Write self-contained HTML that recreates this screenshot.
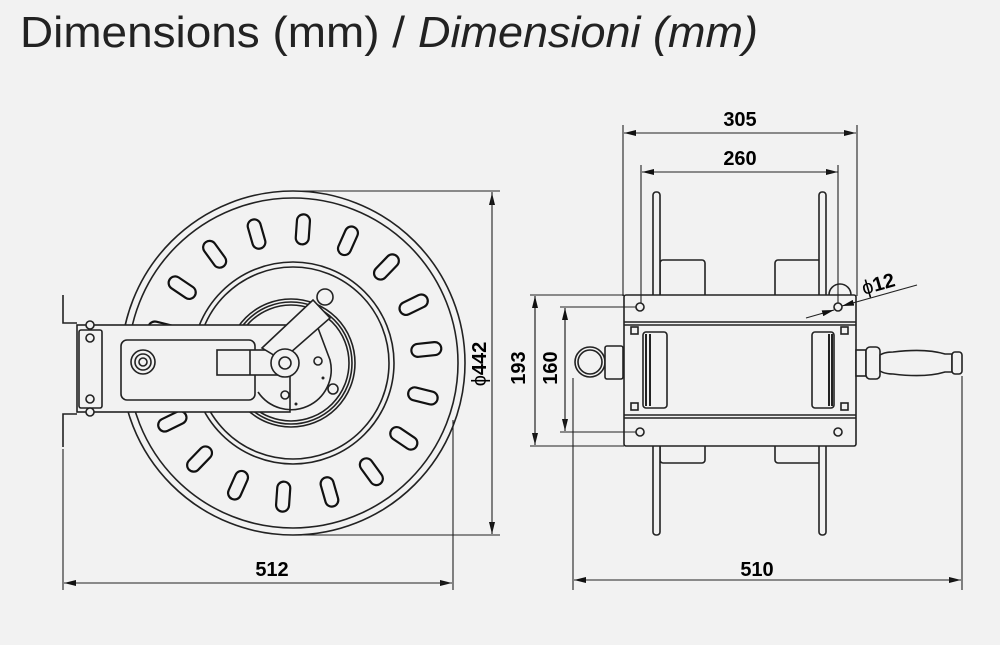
<!DOCTYPE html>
<html><head><meta charset="utf-8"><style>
html,body{margin:0;padding:0;background:#f2f2f2;}
svg{display:block;}
.l{fill:none;stroke:#222;stroke-width:1.6}
.f{fill:#f2f2f2;stroke:#222;stroke-width:1.6}
.s{fill:#f2f2f2;stroke:#111;stroke-width:2.2}
.d{fill:none;stroke:#222;stroke-width:1.1}
.t{font-family:"Liberation Sans",Arial,sans-serif;font-weight:bold;font-size:20px;fill:#000}
</style></head><body>
<svg width="1000" height="645" viewBox="0 0 1000 645" xmlns="http://www.w3.org/2000/svg">
<defs>
<marker id="a" markerWidth="12" markerHeight="6" refX="12" refY="3" orient="auto" markerUnits="userSpaceOnUse"><path d="M0,0 L12,3 L0,6 z" fill="#111"/></marker>
</defs>
<text x="20" y="47" font-family="Liberation Sans, Arial, sans-serif" font-size="44" fill="#222" textLength="385" lengthAdjust="spacingAndGlyphs">Dimensions (mm) / </text>
<text x="418" y="47" font-family="Liberation Sans, Arial, sans-serif" font-size="44" font-style="italic" fill="#222" textLength="340" lengthAdjust="spacingAndGlyphs">Dimensioni (mm)</text>

<!-- LEFT VIEW -->
<circle cx="293" cy="363" r="172" class="l"/>
<circle cx="293" cy="363" r="165" class="l"/>
<g class="s">
<rect x="287" y="214" width="13" height="30" rx="6.5" transform="rotate(4 293 363)"/>
<rect x="287" y="214" width="13" height="30" rx="6.5" transform="rotate(24 293 363)"/>
<rect x="287" y="214" width="13" height="30" rx="6.5" transform="rotate(44 293 363)"/>
<rect x="287" y="214" width="13" height="30" rx="6.5" transform="rotate(64 293 363)"/>
<rect x="287" y="214" width="13" height="30" rx="6.5" transform="rotate(84 293 363)"/>
<rect x="287" y="214" width="13" height="30" rx="6.5" transform="rotate(104 293 363)"/>
<rect x="287" y="214" width="13" height="30" rx="6.5" transform="rotate(124 293 363)"/>
<rect x="287" y="214" width="13" height="30" rx="6.5" transform="rotate(144 293 363)"/>
<rect x="287" y="214" width="13" height="30" rx="6.5" transform="rotate(164 293 363)"/>
<rect x="287" y="214" width="13" height="30" rx="6.5" transform="rotate(184 293 363)"/>
<rect x="287" y="214" width="13" height="30" rx="6.5" transform="rotate(204 293 363)"/>
<rect x="287" y="214" width="13" height="30" rx="6.5" transform="rotate(224 293 363)"/>
<rect x="287" y="214" width="13" height="30" rx="6.5" transform="rotate(244 293 363)"/>
<rect x="287" y="214" width="13" height="30" rx="6.5" transform="rotate(264 293 363)"/>
<rect x="287" y="214" width="13" height="30" rx="6.5" transform="rotate(284 293 363)"/>
<rect x="287" y="214" width="13" height="30" rx="6.5" transform="rotate(304 293 363)"/>
<rect x="287" y="214" width="13" height="30" rx="6.5" transform="rotate(324 293 363)"/>
<rect x="287" y="214" width="13" height="30" rx="6.5" transform="rotate(344 293 363)"/>
</g>
<circle cx="293" cy="363" r="101" class="l"/>
<circle cx="293" cy="363" r="96" class="l"/>
<circle cx="291" cy="363" r="64" class="l"/>
<circle cx="291" cy="363" r="61" class="l"/>
<circle cx="291" cy="363" r="58" class="l"/>
<!-- bracket -->
<rect x="77" y="325" width="213" height="87" class="f"/>
<rect x="79" y="330" width="23" height="78" rx="2" class="l"/>
<circle cx="90" cy="338" r="4" class="l"/><circle cx="90" cy="399" r="4" class="l"/>
<circle cx="90" cy="325" r="4" class="f"/><circle cx="90" cy="412" r="4" class="f"/>
<path d="M63 295 V323 H77 M63 447 V414 H77" class="l"/>
<rect x="121" y="340" width="134" height="60" rx="6" class="l"/>
<circle cx="143" cy="362" r="12" class="l"/><circle cx="143" cy="362" r="8" class="l"/><circle cx="143" cy="362" r="4" class="l"/>
<rect x="217" y="350" width="68" height="25" class="f"/>
<line x1="250" y1="350" x2="250" y2="375" class="l"/>
<!-- roller arm -->
<path d="M262 348 L313 300 L330 318 L282 360 Z" class="f"/>
<circle cx="325" cy="297" r="8" class="f"/>
<path d="M258 392 A40 40 0 0 0 330 360 L318 328" class="l"/>
<circle cx="285" cy="363" r="14" class="f"/><circle cx="285" cy="363" r="6" class="l"/>
<circle cx="318" cy="361" r="4" class="l"/><circle cx="285" cy="395" r="4" class="l"/>
<circle cx="333" cy="389" r="5" class="f"/>
<circle cx="323" cy="378" r="1.5" fill="#222"/><circle cx="296" cy="404" r="1.5" fill="#222"/>

<!-- 442 dimension -->
<path d="M293 191 H500 M293 535 H500" class="d"/>
<line x1="492" y1="200" x2="492" y2="193" class="d" marker-end="url(#a)"/>
<line x1="492" y1="526" x2="492" y2="534" class="d" marker-end="url(#a)"/>
<line x1="492" y1="192" x2="492" y2="534" class="d"/>
<text class="t" transform="translate(486 364) rotate(-90)" text-anchor="middle" font-size="21"><tspan font-weight="normal">ϕ</tspan><tspan font-weight="bold">442</tspan></text>

<!-- 512 -->
<path d="M63 449 V590 M453 420 V590" class="d"/>
<line x1="64" y1="583" x2="452" y2="583" class="d" marker-end="url(#a)"/>
<line x1="452" y1="583" x2="64" y2="583" class="d" marker-end="url(#a)"/>
<text class="t" x="272" y="576" text-anchor="middle">512</text>

<!-- RIGHT VIEW -->
<rect x="660" y="260" width="45" height="40" rx="3" class="l"/>
<rect x="775" y="260" width="47" height="40" rx="3" class="l"/>
<rect x="660" y="440" width="45" height="23" rx="3" class="l"/>
<rect x="775" y="440" width="47" height="23" rx="3" class="l"/>
<rect x="653" y="192" width="7" height="343" rx="3" class="f"/>
<rect x="819" y="192" width="7" height="343" rx="3" class="f"/>
<rect x="624" y="295" width="232" height="151" rx="2" class="f"/>
<path d="M624 322 H856 M624 325 H856 M624 415 H856 M624 418 H856" class="l"/>
<rect x="643" y="332" width="24" height="76" rx="3" class="l"/>
<rect x="812" y="332" width="22" height="76" rx="3" class="l"/>
<path d="M646 334 V406 M650 334 V406 M829 334 V406 M832 334 V406" stroke="#222" stroke-width="2"/>
<rect x="631" y="327" width="7" height="7" class="l"/><rect x="631" y="403" width="7" height="7" class="l"/>
<rect x="841" y="327" width="7" height="7" class="l"/><rect x="841" y="403" width="7" height="7" class="l"/>
<circle cx="640" cy="307" r="4" class="l"/><circle cx="838" cy="307" r="4" class="l"/>
<circle cx="640" cy="432" r="4" class="l"/><circle cx="838" cy="432" r="4" class="l"/>
<path d="M829 295 A11 11 0 0 1 851 295" class="l"/>
<!-- inlet -->
<circle cx="590" cy="362" r="15" class="f"/><circle cx="590" cy="362" r="12" class="l"/>
<rect x="605" y="346" width="18" height="33" rx="2" class="f"/>
<!-- handle -->
<rect x="856" y="350" width="10" height="26" class="f"/>
<rect x="866" y="347" width="14" height="32" rx="4" class="f"/>
<path d="M880 355 Q885 352 893 352 Q925 348 945 354 L952 354 L952 372 L945 372 Q925 378 893 374 Q885 374 880 371 Z" class="f"/>
<rect x="952" y="352" width="10" height="22" rx="3" class="f"/>

<!-- 305 / 260 -->
<path d="M623 125 V296 M857 125 V296 M641 165 V303 M838 165 V303" class="d"/>
<line x1="624" y1="133" x2="856" y2="133" class="d" marker-end="url(#a)"/>
<line x1="856" y1="133" x2="624" y2="133" class="d" marker-end="url(#a)"/>
<text class="t" x="740" y="126" text-anchor="middle">305</text>
<line x1="642" y1="172" x2="838" y2="172" class="d" marker-end="url(#a)"/>
<line x1="838" y1="172" x2="642" y2="172" class="d" marker-end="url(#a)"/>
<text class="t" x="740" y="165" text-anchor="middle">260</text>

<!-- 193 / 160 -->
<path d="M530 295 H624 M530 446 H624 M560 307 H636 M560 432 H636" class="d"/>
<line x1="535" y1="296" x2="535" y2="445" class="d" marker-end="url(#a)"/>
<line x1="535" y1="445" x2="535" y2="296" class="d" marker-end="url(#a)"/>
<line x1="565" y1="308" x2="565" y2="431" class="d" marker-end="url(#a)"/>
<line x1="565" y1="431" x2="565" y2="308" class="d" marker-end="url(#a)"/>
<text class="t" transform="translate(525 368) rotate(-90)" text-anchor="middle">193</text>
<text class="t" transform="translate(557 368) rotate(-90)" text-anchor="middle">160</text>

<!-- phi 12 -->
<line x1="806" y1="318" x2="834" y2="310" class="d" marker-end="url(#a)"/>
<line x1="917" y1="285" x2="842" y2="306" class="d" marker-end="url(#a)"/>
<text class="t" transform="translate(864 295) rotate(-16)" font-size="21"><tspan font-weight="normal">ϕ</tspan>12</text>

<!-- 510 -->
<path d="M573 378 V590 M962 376 V590" class="d"/>
<line x1="574" y1="580" x2="961" y2="580" class="d" marker-end="url(#a)"/>
<line x1="961" y1="580" x2="574" y2="580" class="d" marker-end="url(#a)"/>
<text class="t" x="757" y="576" text-anchor="middle">510</text>
</svg>
</body></html>
